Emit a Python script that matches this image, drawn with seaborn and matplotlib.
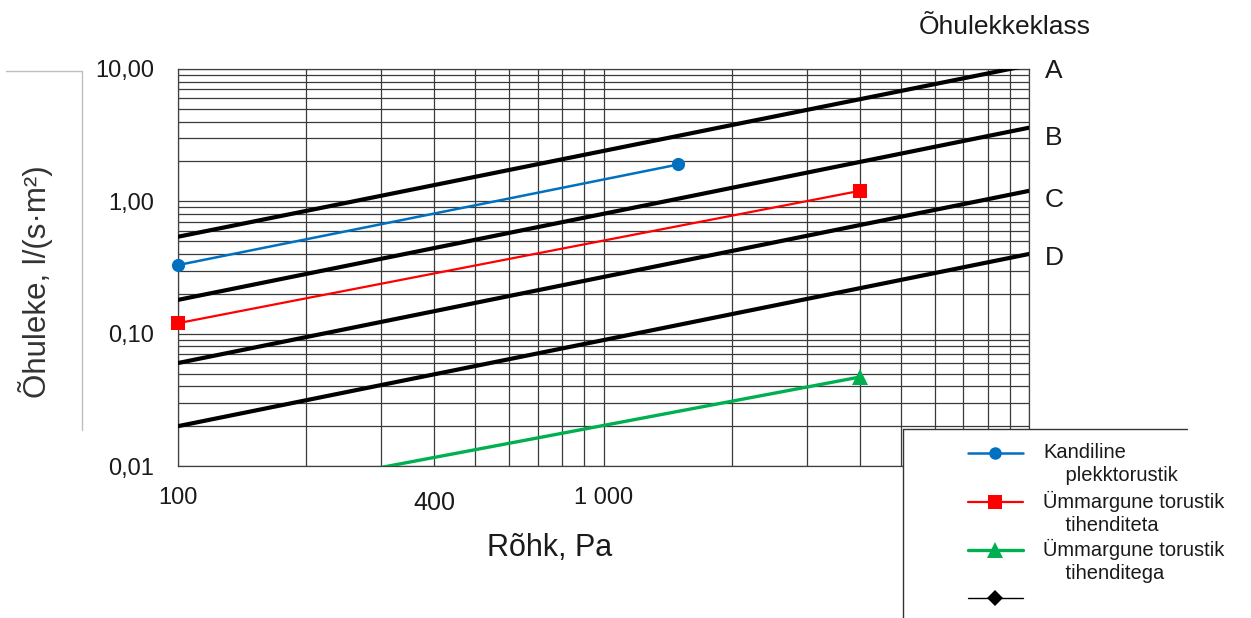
import matplotlib
matplotlib.use("Agg")
import matplotlib.pyplot as plt
from matplotlib.lines import Line2D
from matplotlib.patches import Rectangle
from matplotlib.ticker import FixedLocator, FixedFormatter, LogLocator, NullFormatter
import matplotlib.transforms as mtransforms
import seaborn as sns

sns.set_style("white")
plt.rcParams["font.family"] = ["Liberation Sans", "DejaVu Sans"]

# Air-leakage class lines (pressure, Pa -> leakage, l/(s*m2))
class_pressure = [100, 10000]
class_A = [0.54, 10.7]
class_B = [0.18, 3.6]
class_C = [0.06, 1.2]
class_D = [0.02, 0.40]
class_names = ["A", "B", "C", "D"]
class_label_y = [9.65, 3.0, 1.02, 0.37]

# Measured duct systems
kandiline_p = [100, 1500]
kandiline_q = [0.33, 1.9]
tihenditeta_p = [100, 4000]
tihenditeta_q = [0.12, 1.2]
tihenditega_p = [100, 4000]
tihenditega_q = [0.005, 0.047]

series_labels = ["Kandiline\n    plekktorustik",
                 "Ümmargune torustik\n    tihenditeta",
                 "Ümmargune torustik\n    tihenditega",
                 ""]
series_colors = ["#0070C0", "#FF0000", "#00B050", "#000000"]
series_markers = ["o", "s", "^", "D"]

y_ticks = [0.01, 0.1, 1, 10]
y_ticklabels = ["0,01", "0,10", "1,00", "10,00"]
x_ticks = [100, 1000, 10000]
x_ticklabels = ["100", "1 000", ""]

W, H = 1251, 618
fig = plt.figure(figsize=(W / 100, H / 100), dpi=100)
ax = fig.add_axes([178 / W, 1 - 466 / H, (1029 - 178) / W, (466 - 69) / H])
ax.set(xscale="log", yscale="log")

for vals in (class_A, class_B, class_C, class_D):
    sns.lineplot(x=class_pressure, y=vals, ax=ax, color="black", lw=3.0,
                 legend=False, zorder=3)

sns.lineplot(x=kandiline_p, y=kandiline_q, ax=ax, color=series_colors[0], lw=1.8,
             marker="o", markersize=9.5, markeredgewidth=0, clip_on=False,
             legend=False, zorder=4)
sns.lineplot(x=tihenditeta_p, y=tihenditeta_q, ax=ax, color=series_colors[1], lw=1.6,
             marker="s", markersize=10, markeredgewidth=0, clip_on=False,
             legend=False, zorder=4)
sns.lineplot(x=tihenditega_p, y=tihenditega_q, ax=ax, color=series_colors[2], lw=2.4,
             marker="^", markersize=11, markeredgewidth=0,
             legend=False, zorder=4)

ax.set_xlim(100, 10000)
ax.set_ylim(0.01, 10)

ax.yaxis.set_major_locator(FixedLocator(y_ticks))
ax.yaxis.set_major_formatter(FixedFormatter(y_ticklabels))
ax.yaxis.set_minor_locator(LogLocator(base=10, subs=range(2, 10), numticks=20))
ax.yaxis.set_minor_formatter(NullFormatter())
ax.xaxis.set_major_locator(FixedLocator(x_ticks))
ax.xaxis.set_major_formatter(FixedFormatter(x_ticklabels))
ax.xaxis.set_minor_locator(LogLocator(base=10, subs=range(2, 10), numticks=20))
ax.xaxis.set_minor_formatter(NullFormatter())

ax.tick_params(which="major", direction="out", length=6, width=0.9, color="#404040",
               labelsize=17, labelcolor="#1a1a1a")
ax.tick_params(axis="y", which="major", pad=11)
ax.tick_params(axis="x", which="major", pad=9)
ax.tick_params(which="minor", length=0)
ax.set_axisbelow(True)
ax.grid(which="both", color="#3a3a3a", lw=0.9)
for s in ax.spines.values():
    s.set_color("#404040")
    s.set_linewidth(0.9)

# separate 400 Pa mark below the axis
xt = mtransforms.blended_transform_factory(ax.transData, ax.transAxes)
ax.text(400, -0.092, "400", transform=xt, ha="center", va="center",
        fontsize=18, color="#1a1a1a")

ax.set_xlabel("Rõhk, Pa", fontsize=22, color="#1a1a1a")
ax.xaxis.set_label_coords((550 - 178) / 851, (466 - 548) / 397)
ax.xaxis.label.set_va("center")
ax.set_ylabel("Õhuleke, l/(s·m²)", fontsize=22.5, color="#333333")
ax.yaxis.set_label_coords((36 - 178) / 851, (466 - 282) / 397)
ax.yaxis.label.set_va("center")

# class letters next to the line ends
for name, yv in zip(class_names, class_label_y):
    ax.text(1.0188, yv, name, transform=mtransforms.blended_transform_factory(ax.transAxes, ax.transData),
            ha="left", va="center", fontsize=19, color="#1a1a1a")
fig.text(1005 / W, 1 - 27 / H, "Õhulekkeklass", ha="center", va="center",
         fontsize=19, color="#1a1a1a")

# frame around the y title
px = lambda x, y: (x / W, 1 - y / H)
fig.add_artist(Line2D([6 / W, 82 / W], [1 - 71 / H, 1 - 71 / H], color="#bfbfbf", lw=1.0))
fig.add_artist(Line2D([82 / W, 82 / W], [1 - 71 / H, 1 - 430 / H], color="#bfbfbf", lw=1.0))

# legend box
fig.add_artist(Rectangle(px(903, 640), (1187 - 903) / W, (640 - 429) / H,
                         facecolor="white", edgecolor="none", zorder=5))
fig.add_artist(Line2D([903 / W, 1187 / W], [1 - 429 / H, 1 - 429 / H], color="#333333", lw=1.0, zorder=6))
fig.add_artist(Line2D([903 / W, 903 / W], [1 - 429 / H, 0], color="#333333", lw=1.0, zorder=6))

entry_y = [453, 502, 550, 598]
entry_lw = [1.8, 1.6, 2.4, 1.0]
entry_ms = [9, 9.5, 11, 8]
for lab, col, mk, ey, lw, ms in zip(series_labels, series_colors, series_markers,
                                     entry_y, entry_lw, entry_ms):
    fig.add_artist(Line2D([968 / W, 995 / W, 1023 / W], [1 - ey / H] * 3, color=col, lw=lw,
                          marker=mk, markersize=ms, markeredgewidth=0, markevery=[1], zorder=7))
    if lab:
        fig.text(1043 / W, 1 - (ey + 11) / H, lab, ha="left", va="center",
                 fontsize=14.5, color="#1a1a1a", linespacing=1.25, zorder=7)

fig.savefig("out.png", dpi=100)
